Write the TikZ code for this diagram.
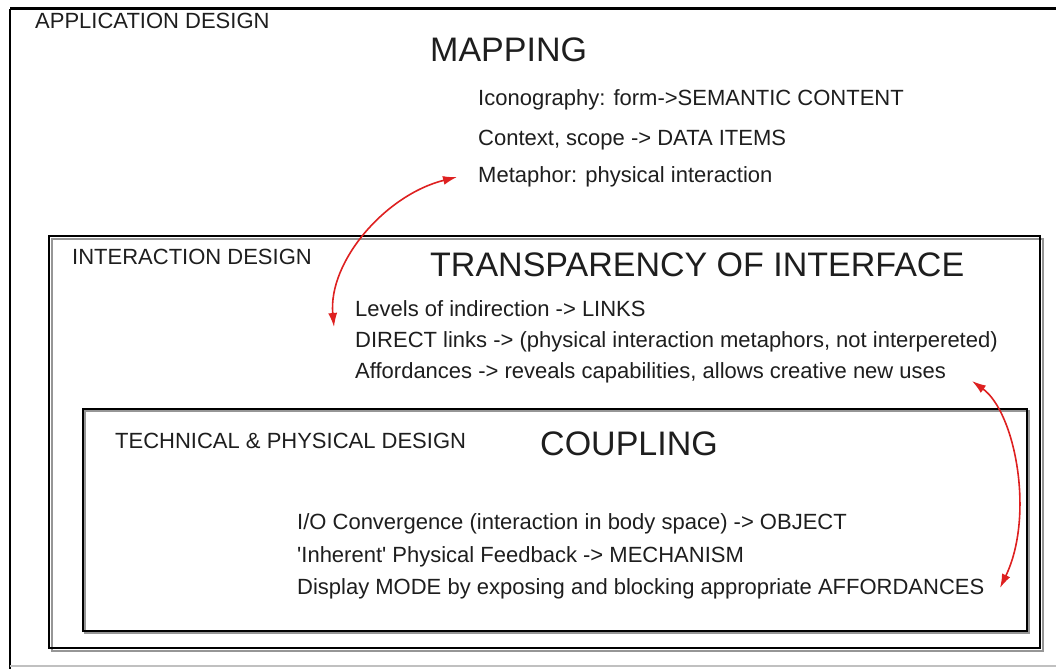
\documentclass[tikz,border=0pt]{standalone}
\usepackage{fontspec}
\setmainfont{Liberation Sans}[Ligatures=TeXOff]
\usetikzlibrary{arrows.meta}

\definecolor{ink}{RGB}{30,30,30}
\definecolor{arrowred}{RGB}{222,32,32}
\definecolor{shade}{RGB}{150,150,150}

\tikzset{
  label/.style={anchor=base west, inner sep=0pt, text=ink, font=\fontsize{22}{26}\selectfont},
  title/.style={anchor=base west, inner sep=0pt, text=ink, font=\fontsize{34}{40}\selectfont},
  frame/.style={draw=black, line width=2.2pt},
  framesh/.style={draw=shade, line width=2.5pt},
  link/.style={draw=arrowred, line width=1.6pt,
    {Latex[length=14pt,width=9pt]}-{Latex[length=14pt,width=9pt]}},
}

\begin{document}
\begin{tikzpicture}[x=1pt,y=-1pt]
\useasboundingbox (0,0) rectangle (1056,669);
\fill[white] (0,0) rectangle (1056,669);

% outer sheet border
\draw[black, line width=3pt] (10,9) -- (1060,9);
\draw[black, line width=2.5pt] (10,9) -- (10,669);
\draw[shade!60, line width=1.5pt] (10,666) -- (1060,666);

% interaction design frame with drop shadow
\draw[framesh] (52,239) rectangle (1043,651);
\draw[frame] (49,236) rectangle (1040,648);

% technical & physical design frame
\draw[framesh] (85,411) rectangle (1029,633);
\draw[frame] (83,409) rectangle (1027,631);

% application design layer
\node[label] (appl) at (35,29) {APPLICATION DESIGN};
\node[title] (mapping) at (430,62) {MAPPING};
\node[label] (icon) at (478,105) {Iconography: form->SEMANTIC CONTENT};
\node[label] (ctx) at (478,145) {Context, scope -> DATA ITEMS};
\node[label] (meta) at (478,182) {Metaphor: physical interaction};

% interaction design layer
\node[label] (inter) at (72,264) {INTERACTION DESIGN};
\node[title] (transp) at (430,276) {TRANSPARENCY OF INTERFACE};
\node[label] (levels) at (355,316) {Levels of indirection -> LINKS};
\node[label] (direct) at (355,347) {DIRECT links -> (physical interaction metaphors, not interpereted)};
\node[label] (afford) at (355,378) {Affordances -> reveals capabilities, allows creative new uses};

% technical & physical design layer
\node[label] (tech) at (115,448) {TECHNICAL \& PHYSICAL DESIGN};
\node[title] (coupling) at (540,455) {COUPLING};
\node[label] (io) at (297,529) {I/O Convergence (interaction in body space) -> OBJECT};
\node[label] (inherent) at (297,562) {'Inherent' Physical Feedback -> MECHANISM};
\node[label] (display) at (297,594) {Display MODE by exposing and blocking appropriate AFFORDANCES};

% arrow end points beside the linked lines
\coordinate (metaTip) at (457,177);
\coordinate (levelsTip) at (334,327);
\coordinate (affordTip) at (972,381);
\coordinate (displayTip) at (1000,588);

\draw[link] (metaTip) .. controls (385,195) and (328,262) .. (levelsTip);
\draw[link] (affordTip) .. controls (1015,412) and (1035,515) .. (displayTip);
\end{tikzpicture}
\end{document}
